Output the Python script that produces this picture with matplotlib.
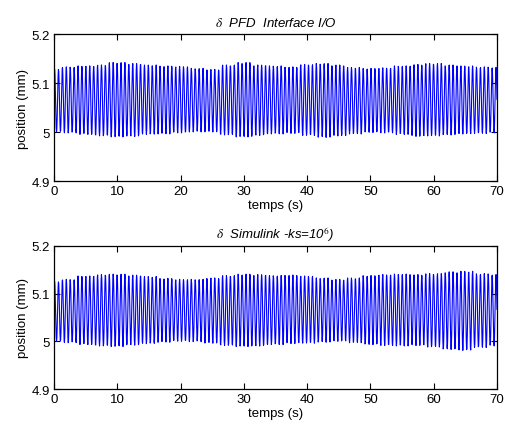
import numpy as np
import matplotlib
matplotlib.use("Agg")
import matplotlib.pyplot as plt

plt.rcParams['font.family'] = ['Liberation Sans', 'DejaVu Sans']
plt.rcParams['mathtext.fontset'] = 'stix'

# envelope, one knot every 2.5 s (0 .. 70 s)
# top panel: PFD Interface I/O
pfd_top = [5.128, 5.133, 5.135, 5.137, 5.142, 5.140, 5.137, 5.135, 5.134, 5.130,
           5.128, 5.137, 5.142, 5.137, 5.135, 5.133, 5.138, 5.140, 5.137, 5.132,
           5.130, 5.131, 5.135, 5.138, 5.140, 5.137, 5.135, 5.133, 5.132]
pfd_bot = [5.000, 4.998, 4.995, 4.992, 4.990, 4.991, 4.995, 4.996, 4.998, 5.000,
           5.000, 4.994, 4.990, 4.993, 4.996, 4.997, 4.993, 4.989, 4.992, 4.996,
           4.999, 4.998, 4.995, 4.991, 4.992, 4.994, 4.996, 4.997, 4.998]
# bottom panel: Simulink ks=1e6
sim_top = [5.125, 5.130, 5.137, 5.140, 5.141, 5.139, 5.136, 5.132, 5.130, 5.130,
           5.133, 5.138, 5.141, 5.140, 5.138, 5.139, 5.137, 5.133, 5.130, 5.133,
           5.138, 5.140, 5.141, 5.140, 5.142, 5.146, 5.147, 5.142, 5.140]
sim_bot = [5.000, 4.997, 4.993, 4.990, 4.989, 4.992, 4.995, 4.998, 5.000, 4.999,
           4.996, 4.991, 4.989, 4.990, 4.993, 4.995, 4.996, 4.998, 5.000, 4.997,
           4.993, 4.991, 4.990, 4.991, 4.988, 4.983, 4.981, 4.987, 4.990]

osc_freq = 1.62  # Hz, counted from the peaks
dt = 0.05        # sample step of the recorded signal

xticks = [0, 10, 20, 30, 40, 50, 60, 70]
yticks = [4.9, 5.0, 5.1, 5.2]
yticklabels = ['4.9', '5', '5.1', '5.2']


def signal(top, bot):
    t = np.arange(0, 70 + dt / 2, dt)
    idx = np.clip(np.rint(t / 2.5).astype(int), 0, len(top) - 1)
    hi = np.asarray(top)[idx]
    lo = np.asarray(bot)[idx]
    mid = (hi + lo) / 2
    amp = (hi - lo) / 2
    return t, mid + amp * np.sin(2 * np.pi * osc_freq * t + 0.6)


fig = plt.figure(figsize=(5.06, 4.31), dpi=100)
ax1 = fig.add_axes([0.1067, 0.5777, 0.8755, 0.341])
ax2 = fig.add_axes([0.1067, 0.0951, 0.8755, 0.332])

panels = [(ax1, pfd_top, pfd_bot, r'$\delta$  PFD  Interface I/O'),
          (ax2, sim_top, sim_bot, r'$\delta$  Simulink -ks=10$^{6}$)')]

for ax, top, bot, title in panels:
    t, y = signal(top, bot)
    ax.plot(t, y, color='#0000ff', linewidth=0.8)
    ax.set_xlim(0, 70)
    ax.set_ylim(4.9, 5.2)
    ax.set_xticks(xticks)
    ax.set_yticks(yticks)
    ax.set_yticklabels(yticklabels)
    ax.tick_params(direction='in', top=True, right=True, labelsize=9.5, length=4, pad=3)
    ax.set_xlabel('temps (s)', fontsize=9.5, labelpad=1)
    ax.set_ylabel('position (mm)', fontsize=9.5, labelpad=2)
    ax.set_title(title, fontsize=9.5, style='italic', pad=6)
    for s in ax.spines.values():
        s.set_linewidth(0.9)

fig.savefig('out.png', dpi=100)
